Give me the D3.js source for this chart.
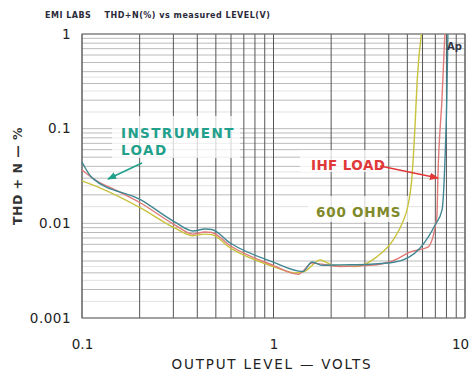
<!DOCTYPE html>
<html><head><meta charset="utf-8">
<script src="https://cdn.jsdelivr.net/npm/d3@7"></script>
<style>body{margin:0;background:#fff}svg{display:block}</style>
</head><body>
<svg id="c" width="470" height="374"></svg>
<script>
// ---- data ----
const titleText = "EMI LABS    THD+N(%) vs measured LEVEL(V)";
const xTicks = [0.1, 1, 10];
const xTickLabels = ["0.1", "1", "10"];
const yTicks = [0.001, 0.01, 0.1, 1];
const yTickLabels = ["0.001", "0.01", "0.1", "1"];
const seriesNames = ["600 OHMS", "IHF LOAD", "INSTRUMENT LOAD"];
// volts / THD+N %
const instrV = [0.1, 0.113, 0.203, 0.306, 0.38, 0.439, 0.476, 0.594, 0.995, 1.42, 1.59, 1.79, 2.22, 3.19, 4.31, 5.83, 6.98, 7.59, 7.85, 8.04, 8.14];
const instrP = [0.0445, 0.0302, 0.0177, 0.0103, 0.0083, 0.0087, 0.0086, 0.0062, 0.0039, 0.0031, 0.0039, 0.0036, 0.00364, 0.0037, 0.0039, 0.0055, 0.0096, 0.0139, 0.0434, 0.216, 1.0];
const ihfV = [0.1, 0.117, 0.149, 0.203, 0.306, 0.38, 0.439, 0.476, 0.594, 0.995, 1.35, 1.59, 2.22, 3.19, 4.31, 5.19, 6.40, 7.13, 7.22, 7.59, 7.85];
const ihfP = [0.0366, 0.0288, 0.0225, 0.0163, 0.0096, 0.0077, 0.0081, 0.0080, 0.0058, 0.0036, 0.0029, 0.0038, 0.0035, 0.0036, 0.0041, 0.0050, 0.0056, 0.0117, 0.031, 0.216, 1.0];
const ohmV = [0.1, 0.124, 0.203, 0.306, 0.38, 0.439, 0.476, 0.594, 0.995, 1.29, 1.45, 1.75, 2.05, 2.67, 3.45, 4.22, 4.70, 5.07, 5.27, 5.47, 5.63, 5.92];
const ohmP = [0.0281, 0.0237, 0.0145, 0.0089, 0.0074, 0.0077, 0.0076, 0.0055, 0.0035, 0.0030, 0.0031, 0.0041, 0.0036, 0.0035, 0.0044, 0.0067, 0.0100, 0.0164, 0.0288, 0.097, 0.327, 1.0];

// ---- chart ----
const svg = d3.select("#c");
const L = 82, R = 465, T = 34, B = 318;
const x = d3.scaleLog().domain([0.1, 10]).range([L, R]);
const y = d3.scaleLog().domain([0.001, 1]).range([B, T]);
const font = "'DejaVu Sans', sans-serif";

svg.append("text").attr("x", 45).attr("y", 18).attr("font-family", font)
  .attr("font-size", 8).attr("font-weight", "bold").attr("letter-spacing", 0.5)
  .attr("fill", "#2a2a3a").attr("xml:space", "preserve").style("white-space", "pre").text(titleText);

const g = svg.append("g");
// horizontal grid
const hMain = [], hFine = [];
[0.001, 0.01, 0.1].forEach(d => {
  for (let k = 1; k <= 9; k++) hMain.push(d * k);
  [1.5, 2.5, 3.5].forEach(k => hFine.push(d * k));
});
hMain.push(1);
g.selectAll("line.hf").data(hFine).enter().append("line")
  .attr("x1", L).attr("x2", R).attr("y1", d => y(d)).attr("y2", d => y(d))
  .attr("stroke", "#d6d6d6").attr("stroke-width", 0.7);
g.selectAll("line.hm").data(hMain).enter().append("line")
  .attr("x1", L).attr("x2", R).attr("y1", d => y(d)).attr("y2", d => y(d))
  .attr("stroke", "#a8a8a8").attr("stroke-width", 0.8);
// vertical grid
const vLines = [];
[0.1, 1].forEach(d => { for (let k = 1; k <= 9; k++) vLines.push(d * k); });
vLines.push(10);
g.selectAll("line.v").data(vLines).enter().append("line")
  .attr("x1", d => x(d)).attr("x2", d => x(d)).attr("y1", T).attr("y2", B)
  .attr("stroke", "#555").attr("stroke-width", 1);

// white label boxes
const boxes = [[112, 116, 128, 42], [300, 150, 86, 22], [308, 196, 100, 26]];
svg.selectAll("rect.box").data(boxes).enter().append("rect")
  .attr("x", d => d[0]).attr("y", d => d[1]).attr("width", d => d[2]).attr("height", d => d[3])
  .attr("fill", "#fff").attr("opacity", 0.75);

// frame
svg.append("rect").attr("x", L).attr("y", T).attr("width", R - L).attr("height", B - T)
  .attr("fill", "none").attr("stroke", "#666").attr("stroke-width", 1);

// curves
const line = d3.line().x(d => x(d[0])).y(d => y(d[1])).curve(d3.curveMonotoneX);
const series = [
  { v: ohmV, p: ohmP, c: "#c8c23c" },
  { v: ihfV, p: ihfP, c: "#e07a78" },
  { v: instrV, p: instrP, c: "#3f8792" }
];
svg.selectAll("path.s").data(series).enter().append("path")
  .attr("d", s => line(s.v.map((v, i) => [v, s.p[i]])))
  .attr("fill", "none").attr("stroke", s => s.c).attr("stroke-width", 1.4);

// axis labels
const yAxis = svg.append("g").attr("transform", `translate(${L - 8},0)`)
  .call(d3.axisLeft(y).tickValues(yTicks).tickSize(0).tickFormat((d, i) => yTickLabels[i]));
yAxis.select(".domain").remove();
yAxis.selectAll("text").attr("font-family", font).attr("font-size", 13.5).attr("fill", "#222")
  .attr("letter-spacing", 0.5);
const xAxis = svg.append("g").attr("transform", `translate(0,${B + 18})`)
  .call(d3.axisBottom(x).tickValues(xTicks).tickSize(0).tickFormat((d, i) => xTickLabels[i]));
xAxis.select(".domain").remove();
xAxis.selectAll("text").attr("font-family", font).attr("font-size", 13.5).attr("fill", "#222")
  .attr("dx", (d, i) => i === 2 ? -5 : 0);

svg.append("text").attr("x", 272).attr("y", 369).attr("text-anchor", "middle")
  .attr("font-family", font).attr("font-size", 13.5).attr("letter-spacing", 1.8).attr("fill", "#222")
  .text("OUTPUT LEVEL — VOLTS");
svg.append("text").attr("transform", "translate(22,176) rotate(-90)").attr("text-anchor", "middle")
  .attr("font-family", font).attr("font-size", 12.5).attr("font-weight", "bold").attr("fill", "#333")
  .attr("letter-spacing", 0.5).text("THD + N — %");

// series labels
const lab = (t, xx, yy, c, ls) => svg.append("text").attr("x", xx).attr("y", yy).attr("font-family", font)
  .attr("font-size", 13.5).attr("font-weight", "bold").attr("letter-spacing", ls).attr("fill", c).text(t);
lab("INSTRUMENT", 121, 138, "#22a08c", 1.4);
lab("LOAD", 121, 155, "#22a08c", 1.4);
lab("IHF LOAD", 311, 170, "#e03838", 0.4);
lab("600 OHMS", 316, 217, "#808a2a", 0.8);

// arrows
svg.append("defs").selectAll("marker").data([["aT", "#22a08c"], ["aR", "#e03838"]]).enter()
  .append("marker").attr("id", d => d[0]).attr("viewBox", "0 0 10 10").attr("refX", 9).attr("refY", 5)
  .attr("markerWidth", 6).attr("markerHeight", 6).attr("orient", "auto")
  .append("path").attr("d", "M0,1 L10,5 L0,9 z").attr("fill", d => d[1]);
svg.append("line").attr("x1", 142).attr("y1", 163).attr("x2", 108).attr("y2", 179)
  .attr("stroke", "#22a08c").attr("stroke-width", 1.5).attr("marker-end", "url(#aT)");
svg.append("line").attr("x1", 380).attr("y1", 166).attr("x2", 438).attr("y2", 178)
  .attr("stroke", "#e03838").attr("stroke-width", 1.5).attr("marker-end", "url(#aR)");

// Ap logo
svg.append("text").attr("x", 447).attr("y", 50).attr("font-family", font).attr("font-size", 10)
  .attr("font-weight", "bold").attr("fill", "#334").text("Ap");
</script>
</body></html>
